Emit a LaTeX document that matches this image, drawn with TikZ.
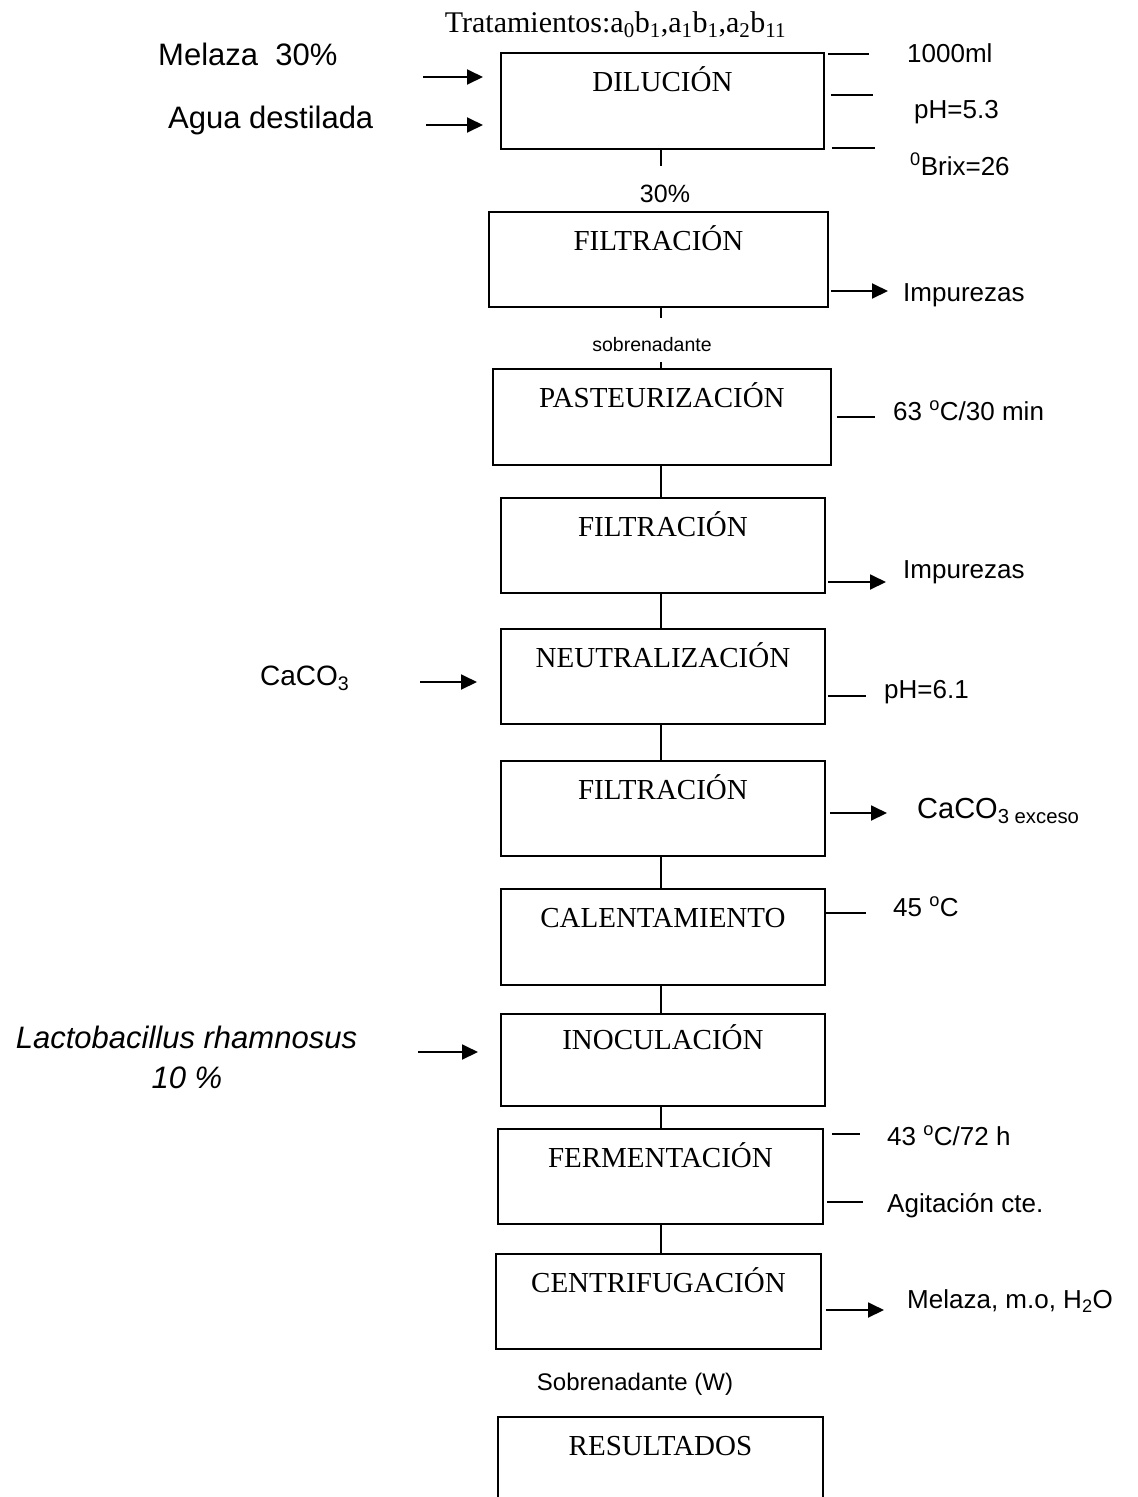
\documentclass[tikz,border=0pt]{standalone}
\usepackage{fontspec}
\setmainfont{Liberation Serif}
\newfontfamily\arialfont{Liberation Sans}
\usetikzlibrary{arrows.meta}
\newcommand\setsz[1]{\fontsize{#1}{#1}\selectfont}

\begin{document}
\begin{tikzpicture}[x=1pt,y=-1pt,
  stepbox/.style={draw, line width=1.9pt, inner sep=0pt, anchor=north west,
    text height=38.5pt, font=\setsz{29}},
  flow/.style={line width=1.8pt},
  arr/.style={line width=1.9pt, -{Triangle[length=16pt,width=15pt]}},
  tick/.style={line width=1.5pt},
  side/.style={inner sep=0pt, anchor=base west, font=\arialfont\setsz{26}},
  big/.style={inner sep=0pt, anchor=base west, font=\arialfont\setsz{31}},
  small/.style={inner sep=0pt, anchor=base, font=\arialfont\setsz{#1}},
]
\useasboundingbox (0,0) rectangle (1138,1497);

% process steps
\node[stepbox, minimum width=323pt, text depth=57.5pt] (dil)  at (500,52)   {DILUCIÓN};
\node[stepbox, minimum width=339pt, text depth=56.5pt] (fil1) at (488,211)  {FILTRACIÓN};
\node[stepbox, minimum width=338pt, text depth=57.5pt] (past) at (492,368)  {PASTEURIZACIÓN};
\node[stepbox, minimum width=324pt, text depth=56.5pt] (fil2) at (500,497)  {FILTRACIÓN};
\node[stepbox, minimum width=324pt, text depth=56.5pt] (neu)  at (500,628)  {NEUTRALIZACIÓN};
\node[stepbox, minimum width=324pt, text depth=56.5pt] (fil3) at (500,760)  {FILTRACIÓN};
\node[stepbox, minimum width=324pt, text depth=57.5pt] (cal)  at (500,888)  {CALENTAMIENTO};
\node[stepbox, minimum width=324pt, text depth=56.5pt, text height=35.5pt] (ino) at (500,1013) {INOCULACIÓN};
\node[stepbox, minimum width=325pt, text depth=56.5pt] (fer)  at (497,1128) {FERMENTACIÓN};
\node[stepbox, minimum width=325pt, text depth=56.5pt] (cen)  at (495,1253) {CENTRIFUGACIÓN};
\node[stepbox, minimum width=325pt, text depth=57.5pt] (res)  at (497,1416) {RESULTADOS};

% title
\node[inner sep=0pt, anchor=base, font=\setsz{30}] (trat) at (615.5,32)
  {Tratamientos:a\textsubscript{0}b\textsubscript{1},a\textsubscript{1}b\textsubscript{1},a\textsubscript{2}b\textsubscript{11}};

% main flow line
\coordinate (spine) at (661,0);
\coordinate (t1) at (661,166);
\coordinate (t2) at (661,318);
\coordinate (t3) at (661,362);
\draw[flow] (dil.south -| spine) -- (t1);
\draw[flow] (fil1.south -| spine) -- (t2);
\draw[flow] (t3) -- (past.north -| spine);
\draw[flow] (past.south -| spine) -- (fil2.north -| spine);
\draw[flow] (fil2.south -| spine) -- (neu.north -| spine);
\draw[flow] (neu.south -| spine) -- (fil3.north -| spine);
\draw[flow] (fil3.south -| spine) -- (cal.north -| spine);
\draw[flow] (cal.south -| spine) -- (ino.north -| spine);
\draw[flow] (ino.south -| spine) -- (fer.north -| spine);
\draw[flow] (fer.south -| spine) -- (cen.north -| spine);

% stream labels
\node[small=25] (p30) at (665,202) {30\%};
\node[small=19.5] (sob1) at (652,351) {sobrenadante};
\node[small=24] (sob2) at (635,1390) {Sobrenadante (W)};

% inputs on the left
\node[big] (mel) at (158,65) {Melaza\ \ 30\%};
\node[big] (agua) at (168,128) {Agua destilada};
\node[inner sep=0pt, anchor=base west, font=\arialfont\setsz{28}] (caco) at (260,685) {CaCO\textsubscript{3}};
\node[inner sep=0pt, anchor=base, font=\arialfont\itshape\setsz{31}] (lac) at (186.5,1048) {Lactobacillus rhamnosus};
\node[inner sep=0pt, anchor=base, font=\arialfont\itshape\setsz{31}] (pct) at (187,1088) {10 \%};

\coordinate (i1) at (423,77);
\coordinate (i2) at (426,125);
\coordinate (i3) at (420,682);
\coordinate (i4) at (418,1052);
\draw[arr] (i1) -- ([xshift=-17pt]i1 -| dil.west);
\draw[arr] (i2) -- ([xshift=-17pt]i2 -| dil.west);
\draw[arr] (i3) -- ([xshift=-23pt]i3 -| neu.west);
\draw[arr] (i4) -- ([xshift=-22pt]i4 -| ino.west);

% conditions on the right
\coordinate (c1) at (869,54);
\coordinate (c2) at (873,95);
\coordinate (c3) at (875,148);
\coordinate (c4) at (875,417);
\coordinate (c5) at (866,696);
\coordinate (c6) at (866,913);
\coordinate (c7) at (860,1134);
\coordinate (c8) at (863,1202);
\draw[tick] ([xshift=3pt]dil.east |- c1) -- (c1);
\draw[tick] ([xshift=6pt]dil.east |- c2) -- (c2);
\draw[tick] ([xshift=7pt]dil.east |- c3) -- (c3);
\draw[tick] ([xshift=5pt]past.east |- c4) -- (c4);
\draw[tick] ([xshift=2pt]neu.east |- c5) -- (c5);
\draw[tick] (cal.east |- c6) -- (c6);
\draw[tick] ([xshift=8pt]fer.east |- c7) -- (c7);
\draw[tick] ([xshift=3pt]fer.east |- c8) -- (c8);

\node[side] (vol) at (907,62) {1000ml};
\node[side] (ph1) at (914,118) {pH=5.3};
\node[side] (brix) at (910,175) {\textsuperscript{0}Brix=26};
\node[side] (tp1) at (893,420) {63 \textsuperscript{o}C/30 min};
\node[side] (ph2) at (884,698) {pH=6.1};
\node[side] (tp2) at (893,916) {45 \textsuperscript{o}C};
\node[side] (tp3) at (887,1145) {43 \textsuperscript{o}C/72 h};
\node[side] (agit) at (887,1212) {Agitación cte.};

% outputs on the right
\coordinate (o1) at (888,291);
\coordinate (o2) at (886,582);
\coordinate (o3) at (887,813);
\coordinate (o4) at (884,1310);
\draw[arr] ([xshift=2pt]fil1.east |- o1) -- (o1);
\draw[arr] ([xshift=2pt]fil2.east |- o2) -- (o2);
\draw[arr] ([xshift=4pt]fil3.east |- o3) -- (o3);
\draw[arr] ([xshift=4pt]cen.east |- o4) -- (o4);

\node[side] (imp1) at (903,301) {Impurezas};
\node[side] (imp2) at (903,578) {Impurezas};
\node[inner sep=0pt, anchor=base west, font=\arialfont\setsz{29}] (exc) at (917,818) {CaCO\textsubscript{3 exceso}};
\node[side] (resid) at (907,1308) {Melaza, m.o, H\textsubscript{2}O};
\end{tikzpicture}
\end{document}
